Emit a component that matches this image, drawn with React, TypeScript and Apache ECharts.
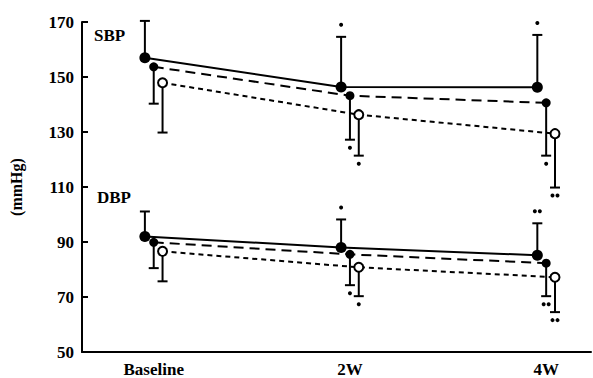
import React, { useEffect, useRef } from "react";
import * as echarts from "echarts";

// Time points (weeks) and their labels
const categories = ["Baseline", "2W", "4W"];
const weeks = [0, 2, 4];
const groupOffsets = [-0.09, 0, 0.09];

// Y axis ticks
const yTicks = [50, 70, 90, 110, 130, 150, 170];

// SBP means and error-bar ends
const sbpG1 = [157, 146.4, 146.3];
const sbpG1End = [170.4, 164.6, 165.3];
const sbpG2 = [153.7, 143.2, 140.6];
const sbpG2End = [140.3, 127.2, 121.4];
const sbpG3 = [147.9, 136.3, 129.4];
const sbpG3End = [129.8, 121.4, 109.8];

// DBP means and error-bar ends
const dbpG1 = [92, 88, 85.2];
const dbpG1End = [101.1, 98.2, 96.8];
const dbpG2 = [89.9, 85.5, 82.3];
const dbpG2End = [80.5, 74.3, 70.3];
const dbpG3 = [86.6, 80.8, 77.2];
const dbpG3End = [75.7, 70.3, 64.5];

// Significance marks (number of asterisks) per time point
const sbpG1Sig = [0, 1, 1];
const sbpG2Sig = [0, 1, 1];
const sbpG3Sig = [0, 1, 2];
const dbpG1Sig = [0, 1, 2];
const dbpG2Sig = [0, 1, 2];
const dbpG3Sig = [0, 1, 2];

const FONT = '"Liberation Serif", "DejaVu Serif", serif';

type Grp = { means: number[]; ends: number[]; sig: number[]; g: number };

const groups: Grp[] = [
  { means: sbpG1, ends: sbpG1End, sig: sbpG1Sig, g: 0 },
  { means: sbpG2, ends: sbpG2End, sig: sbpG2Sig, g: 1 },
  { means: sbpG3, ends: sbpG3End, sig: sbpG3Sig, g: 2 },
  { means: dbpG1, ends: dbpG1End, sig: dbpG1Sig, g: 0 },
  { means: dbpG2, ends: dbpG2End, sig: dbpG2Sig, g: 1 },
  { means: dbpG3, ends: dbpG3End, sig: dbpG3Sig, g: 2 },
];

const lineStyles = [
  { type: "solid" as any, width: 2 },
  { type: [10, 6] as any, width: 2 },
  { type: [5, 4] as any, width: 2 },
];
const symbolSizes = [11, 9, 9];
const symbols = ["circle", "circle", "emptyCircle"];

export default function App() {
  const ref = useRef<HTMLDivElement>(null);
  useEffect(() => {
    if (!ref.current) return;
    const chart = echarts.init(ref.current, null, { renderer: "svg" });

    const errData: number[][] = [];
    const sigData: number[][] = [];
    groups.forEach((gr) => {
      weeks.forEach((w, i) => {
        const x = w + groupOffsets[gr.g];
        errData.push([x, gr.means[i], gr.ends[i]]);
        if (gr.sig[i] > 0) {
          sigData.push([x, gr.ends[i], gr.sig[i], gr.ends[i] > gr.means[i] ? -1 : 1]);
        }
      });
    });

    const lineSeries = groups.map((gr) => ({
      type: "line",
      data: weeks.map((w, i) => [w + groupOffsets[gr.g], gr.means[i]]),
      symbol: symbols[gr.g],
      symbolSize: symbolSizes[gr.g],
      showAllSymbol: true,
      lineStyle: { color: "#000", ...lineStyles[gr.g] },
      itemStyle: {
        color: "#000",
        borderColor: "#000",
        borderWidth: gr.g === 2 ? 2 : 0,
      },
      z: 3,
    }));

    chart.setOption({
      animation: false,
      grid: { left: 80, right: 2, top: 22, bottom: 25, containLabel: false },
      xAxis: {
        type: "value",
        min: -0.731,
        max: 4.457,
        splitLine: { show: false },
        axisTick: { show: false },
        axisLine: { onZero: false, lineStyle: { color: "#000", width: 2 } },
        axisLabel: {
          customValues: weeks,
          formatter: (v: number) => categories[weeks.indexOf(v)] ?? "",
          color: "#000",
          fontFamily: FONT,
          fontWeight: "bold",
          fontSize: 17,
          margin: 9,
        },
      },
      yAxis: {
        type: "value",
        min: 50,
        max: 170,
        interval: 20,
        name: "(mmHg)",
        nameLocation: "middle",
        nameRotate: 90,
        nameGap: 58,
        nameTextStyle: { color: "#000", fontFamily: FONT, fontWeight: "bold", fontSize: 16 },
        splitLine: { show: false },
        axisLine: { show: true, onZero: false, lineStyle: { color: "#000", width: 2 } },
        axisTick: {
          show: true,
          inside: true,
          length: 6,
          customValues: yTicks,
          lineStyle: { color: "#000", width: 2 },
        },
        axisLabel: {
          customValues: yTicks,
          color: "#000",
          fontFamily: FONT,
          fontWeight: "bold",
          fontSize: 17,
          margin: 8,
        },
      },
      graphic: [
        {
          type: "text",
          left: 94,
          top: 27,
          style: { text: "SBP", font: `bold 17px ${FONT}`, fill: "#000" },
        },
        {
          type: "text",
          left: 97,
          top: 189,
          style: { text: "DBP", font: `bold 17px ${FONT}`, fill: "#000" },
        },
      ],
      series: [
        ...lineSeries,
        {
          type: "custom",
          data: errData,
          encode: { x: 0, y: [1, 2] },
          z: 2,
          renderItem: (_p: any, api: any) => {
            const a = api.coord([api.value(0), api.value(1)]);
            const b = api.coord([api.value(0), api.value(2)]);
            return {
              type: "group",
              children: [
                {
                  type: "line",
                  shape: { x1: a[0], y1: a[1], x2: b[0], y2: b[1] },
                  style: { stroke: "#000", lineWidth: 2 },
                },
                {
                  type: "line",
                  shape: { x1: b[0] - 5, y1: b[1], x2: b[0] + 5, y2: b[1] },
                  style: { stroke: "#000", lineWidth: 2 },
                },
              ],
            };
          },
        },
        {
          type: "custom",
          data: sigData,
          encode: { x: 0, y: 1 },
          z: 2,
          renderItem: (_p: any, api: any) => {
            const c = api.coord([api.value(0), api.value(1)]);
            const n = api.value(2);
            const dir = api.value(3);
            const y = c[1] + dir * (dir < 0 ? 12 : 8);
            const children: any[] = [];
            for (let k = 0; k < n; k++) {
              const dx = n === 1 ? 0 : (k === 0 ? -2.5 : 2.5);
              children.push({
                type: "circle",
                shape: { cx: c[0] + dx, cy: y, r: 2 },
                style: { fill: "#000" },
              });
            }
            return { type: "group", children };
          },
        },
      ],
    });
    return () => chart.dispose();
  }, []);
  return (
    <div
      ref={ref}
      style={{ position: "absolute", left: 0, top: 0, width: 593, height: 378, background: "#fff" }}
    />
  );
}
